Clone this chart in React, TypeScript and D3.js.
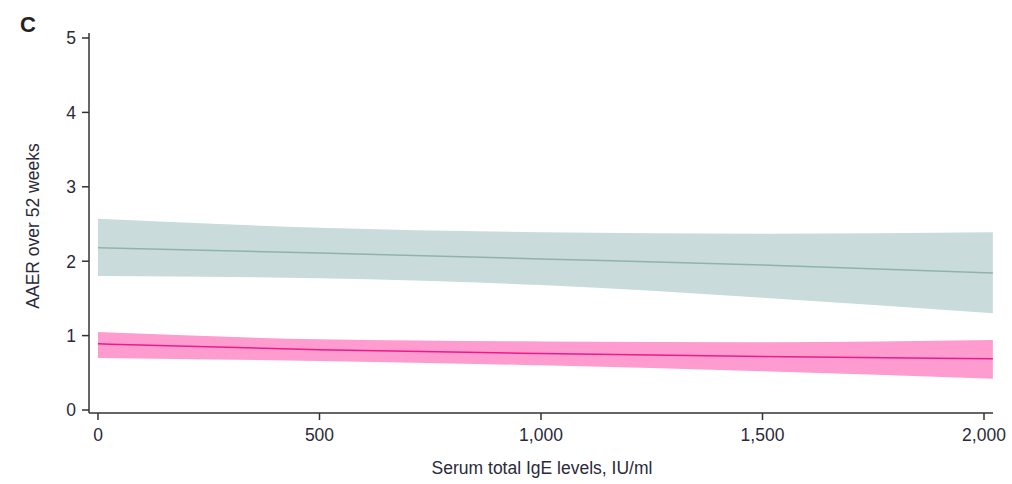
import React from "react";
import * as d3 from "d3";

// Serum total IgE levels (IU/ml) at which the model estimates are evaluated
const ige = [0, 500, 1000, 1500, 2020];

// Teal series: estimate with 95% CI
const tealMid = [2.18, 2.11, 2.03, 1.95, 1.84];
const tealHi = [2.57, 2.45, 2.39, 2.37, 2.39];
const tealLo = [1.8, 1.77, 1.68, 1.51, 1.3];

// Pink series: estimate with 95% CI
const pinkMid = [0.89, 0.81, 0.76, 0.72, 0.69];
const pinkHi = [1.05, 0.95, 0.92, 0.91, 0.94];
const pinkLo = [0.7, 0.66, 0.6, 0.52, 0.42];

const xTicks = [0, 500, 1000, 1500, 2000];
const yTicks = [0, 1, 2, 3, 4, 5];

const W = 1012;
const H = 484;
const font = "'Liberation Sans', Arial, sans-serif";
const textColor = "#2a2a3a";

export default function App() {
  const x = d3.scaleLinear().domain([0, 2000]).range([98, 984]);
  const y = d3.scaleLinear().domain([0, 5]).range([410, 38]);
  const axisY = 413;
  const axisX = 89;

  const band = (hi: number[], lo: number[]) =>
    d3
      .area<number>()
      .x((_, i) => x(ige[i]))
      .y0((_, i) => y(lo[i]))
      .y1((_, i) => y(hi[i]))
      .curve(d3.curveMonotoneX)(ige.map((_, i) => i)) || "";

  const line = (mid: number[]) =>
    d3
      .line<number>()
      .x((_, i) => x(ige[i]))
      .y((_, i) => y(mid[i]))
      .curve(d3.curveMonotoneX)(ige.map((_, i) => i)) || "";

  const fmt = d3.format(",");

  return (
    <svg width={W} height={H} style={{ position: "absolute", left: 0, top: 0 }}>
      <rect width={W} height={H} fill="#fff" />
      <text x={20} y={32} fontFamily={font} fontWeight="bold" fontSize={22} fill="#222">
        C
      </text>

      {/* confidence bands and estimates */}
      <path d={band(tealHi, tealLo)} fill="#c9dcdb" />
      <path d={line(tealMid)} fill="none" stroke="#8fb3ac" strokeWidth={1.5} />
      <path d={band(pinkHi, pinkLo)} fill="#fe9ccf" />
      <path d={line(pinkMid)} fill="none" stroke="#ec1a8c" strokeWidth={1.5} />

      {/* y axis */}
      <line x1={axisX} x2={axisX} y1={y(5) - 5} y2={axisY} stroke="#333" strokeWidth={1.5} />
      {yTicks.map((t) => (
        <g key={t}>
          <line x1={axisX - 7} x2={axisX} y1={y(t)} y2={y(t)} stroke="#333" strokeWidth={1.5} />
          <text
            x={axisX - 13}
            y={y(t)}
            dy="0.36em"
            textAnchor="end"
            fontFamily={font}
            fontSize={17.5}
            fill={textColor}
          >
            {t}
          </text>
        </g>
      ))}
      <text
        transform={`translate(39,${226}) rotate(-90)`}
        textAnchor="middle"
        fontFamily={font}
        fontSize={17.5}
        fill={textColor}
      >
        AAER over 52 weeks
      </text>

      {/* x axis */}
      <line x1={axisX} x2={993} y1={axisY} y2={axisY} stroke="#333" strokeWidth={1.5} />
      {xTicks.map((t) => (
        <g key={t}>
          <line x1={x(t)} x2={x(t)} y1={axisY} y2={axisY + 7} stroke="#333" strokeWidth={1.5} />
          <text
            x={x(t)}
            y={441}
            textAnchor="middle"
            fontFamily={font}
            fontSize={17.5}
            fill={textColor}
          >
            {fmt(t)}
          </text>
        </g>
      ))}
      <text
        x={542}
        y={474}
        textAnchor="middle"
        fontFamily={font}
        fontSize={17.5}
        fill={textColor}
      >
        Serum total IgE levels, IU/ml
      </text>
    </svg>
  );
}
